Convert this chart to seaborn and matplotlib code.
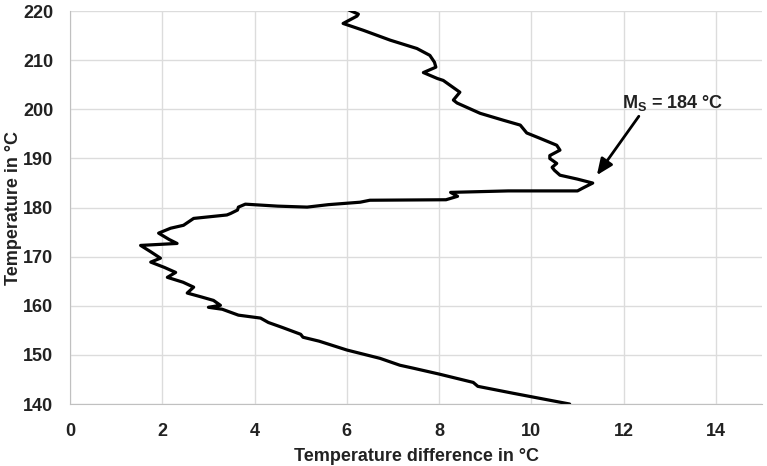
#!/usr/bin/env python3
"""Cooling curve: temperature difference vs temperature, with Ms annotation."""
import matplotlib; matplotlib.use('Agg')
import matplotlib.pyplot as plt
import pandas as pd
import seaborn as sns

# curve traced from top (220 °C) downwards, in path order
temperature = [220.3, 219.4, 219.0, 217.5, 216.1, 214.1, 212.4, 211.0, 209.6, 208.6,
               207.5, 206.3, 205.9, 204.5, 203.5, 201.9, 201.3, 199.2, 197.8, 196.8,
               195.2, 194.1, 192.7, 191.7, 190.6, 190.0, 189.0, 188.2, 187.6, 186.6,
               185.8, 185.0, 184.0, 183.4, 183.4, 183.1, 182.3, 181.6, 181.5, 181.1,
               180.6, 180.1, 180.3, 180.7, 180.1, 179.5, 178.8, 178.5, 177.8, 176.4,
               175.8, 174.8, 173.5, 172.7, 172.3, 171.0, 169.7, 168.9, 167.8, 166.8,
               165.8, 164.8, 163.8, 162.6, 161.8, 161.1, 160.1, 159.7, 159.3, 158.1,
               157.5, 156.6, 155.6, 154.2, 153.6, 152.8, 151.0, 149.3, 147.9, 147.3,
               146.1, 144.4, 143.6, 142.2, 140.0]
temp_diff = [6.03, 6.25, 6.22, 5.92, 6.36, 6.94, 7.52, 7.80, 7.90, 7.93,
             7.66, 7.96, 8.09, 8.30, 8.45, 8.31, 8.39, 8.89, 9.39, 9.76,
             9.90, 10.19, 10.55, 10.62, 10.40, 10.40, 10.55, 10.45, 10.50, 10.62,
             11.00, 11.33, 11.12, 11.00, 9.50, 8.25, 8.40, 8.15, 6.50, 6.29,
             5.60, 5.14, 4.50, 3.80, 3.65, 3.63, 3.48, 3.40, 2.68, 2.46,
             2.18, 1.92, 2.15, 2.32, 1.53, 1.75, 1.96, 1.75, 2.05, 2.29,
             2.11, 2.45, 2.68, 2.54, 2.85, 3.11, 3.26, 3.00, 3.30, 3.65,
             4.13, 4.30, 4.60, 5.00, 5.05, 5.40, 6.00, 6.72, 7.15, 7.44,
             8.00, 8.74, 8.84, 9.60, 10.83]

x_ticks = [0, 2, 4, 6, 8, 10, 12, 14]
y_ticks = [140, 150, 160, 170, 180, 190, 200, 210, 220]
ms_label = r"M$_\mathrm{S}$ = 184 °C"

df = pd.DataFrame({"dT": temp_diff, "T": temperature})

sns.set_style("whitegrid", {"grid.color": "#dcdcdc", "axes.edgecolor": "#c0c0c0"})
plt.rcParams['font.family'] = ['Liberation Sans', 'DejaVu Sans']
plt.rcParams['font.weight'] = 'bold'
plt.rcParams['mathtext.fontset'] = 'custom'
plt.rcParams['mathtext.rm'] = 'Liberation Sans:bold'

fig = plt.figure(figsize=(7.67, 4.66), dpi=100)
ax = fig.add_axes([0.0913, 0.133, 0.9022, 0.843])

sns.lineplot(data=df, x="dT", y="T", sort=False, estimator=None, color="black",
             linewidth=2.3, ax=ax)

ax.set_xlim(0, 15)
ax.set_ylim(140, 220)
ax.set_xticks(x_ticks)
ax.set_yticks(y_ticks)
ax.tick_params(axis="both", length=0, labelsize=13, colors="#222222")
ax.tick_params(axis="y", pad=12)
ax.tick_params(axis="x", pad=14)
for lbl in ax.get_xticklabels() + ax.get_yticklabels():
    lbl.set_fontweight("bold")
ax.grid(True, color="#dcdcdc", linewidth=1)
ax.spines["right"].set_visible(False)
ax.spines["top"].set_visible(False)
ax.spines["left"].set_color("#c0c0c0")
ax.spines["bottom"].set_color("#c0c0c0")

# x label sits at the very bottom edge (cut in the source figure), keep it whole
ax.set_xlabel("Temperature difference in °C", fontsize=13, fontweight="bold",
              color="#222222", va="bottom")
ax.set_ylabel("Temperature in °C", fontsize=13, fontweight="bold", color="#222222")
ax.xaxis.set_label_coords(0.5, -0.155)
ax.yaxis.set_label_coords(-0.07, 0.5)

ax.text(13.06, 201.3, ms_label, fontsize=13, fontweight="bold", color="#222222",
        ha="center", va="center")
ax.annotate("", xy=(11.42, 186.6), xytext=(12.33, 198.6),
            arrowprops=dict(arrowstyle="-|>,head_length=0.7,head_width=0.3",
                            color="black", lw=2, mutation_scale=14,
                            shrinkA=0, shrinkB=0))

fig.savefig("out.png", dpi=100)
plt.close()
